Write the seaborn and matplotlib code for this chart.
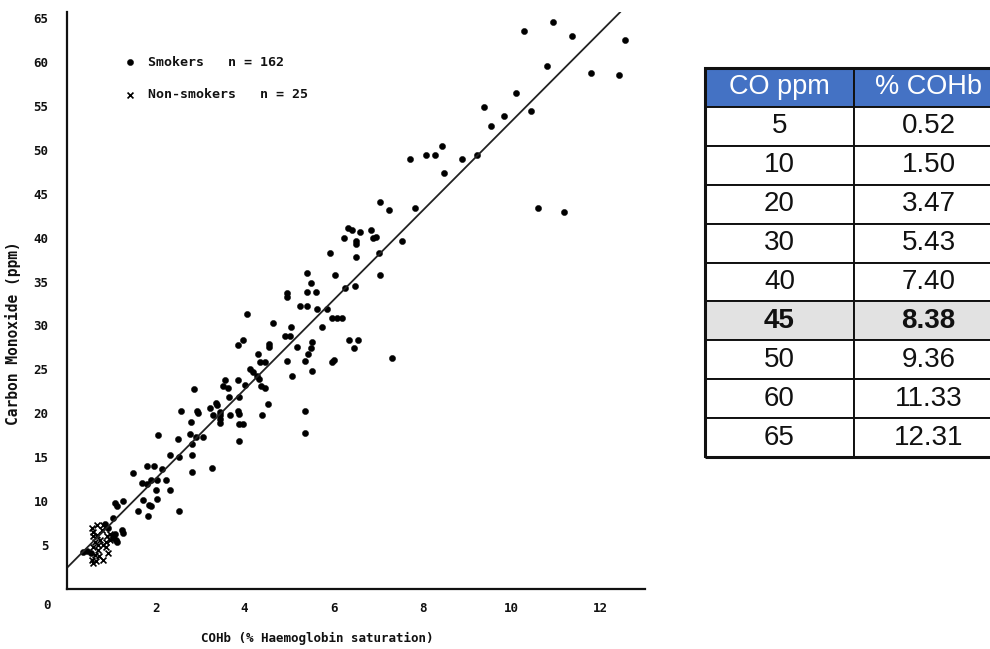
import numpy as np
import pandas as pd
import matplotlib
matplotlib.use("Agg")
import matplotlib.pyplot as plt
import seaborn as sns
from matplotlib.patches import Rectangle

# ---------------- data ----------------
smokers_cohb = [
    10.28, 10.94, 11.35, 12.56, 10.79, 11.79, 12.41, 10.09, 9.38, 9.84, 10.44, 9.53,
    8.44, 8.08, 8.28, 8.88, 9.23, 7.73, 8.48, 10.59, 11.19,
    7.04, 7.25, 7.84, 7.54,
    6.33, 6.42, 6.59, 6.84, 6.24, 6.50, 6.50, 6.89, 6.95, 5.92, 6.50, 7.03, 6.03, 7.04,
    5.40, 5.49, 5.40, 5.60, 4.95, 4.95, 6.26, 6.49, 5.25, 5.40, 5.64, 5.85, 4.05, 5.96,
    6.07, 6.20, 4.65, 5.05, 5.75, 4.91, 5.02, 3.97, 3.86, 4.56, 4.56, 5.17, 5.51, 5.49,
    5.43, 6.35, 6.56, 6.46, 7.31, 6.00, 5.96,
    4.96, 5.36, 5.51, 5.06, 4.31, 4.35, 4.46, 4.12, 4.18, 4.27, 4.33, 4.37, 4.46,
    3.56, 3.86, 3.52, 3.62, 4.01, 2.87, 3.66, 3.88, 3.36, 3.39, 2.93, 2.96, 3.22, 3.45,
    3.45, 3.45, 3.45, 3.30, 3.67, 3.86, 3.88, 4.53, 4.39, 3.88, 3.97, 5.36, 5.36, 3.88,
    2.57, 2.79, 2.06, 2.51, 2.78, 2.91, 3.07, 2.83,
    2.33, 2.53, 2.83, 3.28, 2.83, 1.82, 1.97, 2.14, 1.50, 1.69, 1.80, 1.91, 2.03, 2.23,
    2.01, 2.33, 1.73, 1.86, 1.91, 2.03, 1.60, 1.84, 2.53,
    1.09, 1.13, 1.28, 1.05, 0.87, 0.94, 1.28, 1.24, 1.09, 1.05, 1.13,
    0.36, 0.45, 0.54, 1.05, 1.11,
]
smokers_co = [
    63.5, 64.5, 63.0, 62.5, 59.5, 58.7, 58.5, 56.5, 54.9, 53.9, 54.4, 52.7,
    50.4, 49.4, 49.4, 48.9, 49.4, 48.9, 47.3, 43.4, 42.9,
    44.1, 43.1, 43.4, 39.6,
    41.1, 40.9, 40.6, 40.9, 39.9, 39.6, 39.3, 39.9, 40.1, 38.3, 37.8, 38.2, 35.8, 35.8,
    36.0, 34.8, 33.8, 33.8, 33.7, 33.2, 34.3, 34.5, 32.2, 32.2, 31.9, 31.9, 31.3, 30.8,
    30.8, 30.8, 30.3, 29.8, 29.8, 28.8, 28.8, 28.4, 27.8, 27.9, 27.5, 27.6, 28.1, 27.4,
    26.8, 28.4, 28.4, 27.4, 26.3, 26.1, 25.8,
    26.0, 25.9, 24.8, 24.3, 26.8, 25.8, 25.8, 25.0, 24.75, 24.3, 23.9, 23.1, 22.9,
    23.8, 23.8, 23.1, 22.9, 23.2, 22.8, 21.8, 21.9, 21.2, 20.96, 20.3, 20.0, 20.6, 20.2,
    19.8, 19.4, 18.9, 19.8, 19.8, 20.3, 19.9, 21.1, 19.8, 18.8, 18.8, 20.3, 17.8, 16.8,
    20.3, 19.0, 17.5, 17.05, 17.7, 17.3, 17.3, 16.5,
    15.3, 15.0, 15.3, 13.8, 13.3, 14.0, 14.0, 13.7, 13.25, 12.1, 11.9, 12.4, 12.4, 12.4,
    11.3, 11.3, 10.1, 9.6, 9.4, 10.3, 8.9, 8.35, 8.9,
    9.76, 9.45, 10.06, 8.05, 7.4, 7.0, 6.4, 6.7, 6.3, 5.8, 5.3,
    4.25, 4.3, 4.1, 6.0, 5.6,
]
nonsmokers_cohb = [
    0.57, 0.60, 0.66, 0.81, 0.64, 0.74, 0.71, 0.94, 0.60, 0.83, 0.89, 0.64, 0.75,
    0.89, 0.98, 0.60, 0.69, 0.90, 0.59, 0.79, 0.57, 0.68, 0.83, 0.98, 0.70,
]
nonsmokers_co = [
    3.3, 3.0, 3.2, 3.3, 3.9, 3.8, 4.4, 4.1, 4.8, 5.0, 4.8, 5.4, 5.6,
    5.4, 5.6, 6.0, 6.15, 6.0, 6.5, 6.7, 6.9, 7.3, 7.3, 6.3, 5.0,
]

smokers_label = "Smokers   n = 162"
nonsmokers_label = "Non-smokers   n = 25"

table_header = ["CO ppm", "% COHb"]
table_co_ppm = ["5", "10", "20", "30", "40", "45", "50", "60", "65"]
table_cohb = ["0.52", "1.50", "3.47", "5.43", "7.40", "8.38", "9.36", "11.33", "12.31"]
highlight_value = "45"

x_tick_values = list(range(1, 13))
x_tick_labels = ["", "2", "", "4", "", "6", "", "8", "", "10", "", "12"]
y_tick_values = list(range(5, 70, 5))
x_label = "COHb (% Haemoglobin saturation)"
y_label = "Carbon Monoxide (ppm)"

# ---------------- figure ----------------
sns.set_style("white")
plt.rcParams["font.family"] = ["DejaVu Sans Mono", "DejaVu Sans"]

fig = plt.figure(figsize=(9.9, 6.49), dpi=100)
W, H = 990, 649
x0px, x1px = 66.5, 645
y0px, y1px = 589, 12
ax = fig.add_axes([x0px / W, 1 - y0px / H, (x1px - x0px) / W, (y0px - y1px) / H])

df_s = pd.DataFrame({"cohb": smokers_cohb, "co": smokers_co})
df_n = pd.DataFrame({"cohb": nonsmokers_cohb, "co": nonsmokers_co})

sns.scatterplot(data=df_s, x="cohb", y="co", ax=ax, marker="o", s=20,
                color="black", edgecolor="black", linewidth=0.3, label=smokers_label)
sns.scatterplot(data=df_n, x="cohb", y="co", ax=ax, marker="x", s=18,
                color="black", linewidth=1.2, label=nonsmokers_label)

# regression line implied by the CO ppm / %COHb relation
slope, intercept = np.polyfit(np.array(table_cohb, float), np.array(table_co_ppm, float), 1)
x_line = np.linspace(0, 12.45, 50)
sns.lineplot(x=x_line, y=slope * x_line + intercept, ax=ax, color="#222222",
             linewidth=1.3, legend=False)

ax.set_xlim(0, 13.0)
ax.set_ylim(0, (y0px - y1px) / ((y0px - 18) / 65))
ax.set_xticks(x_tick_values)
ax.set_xticklabels(x_tick_labels)
ax.set_yticks(y_tick_values)
ax.set_yticklabels([str(v) for v in y_tick_values])
for s in ["top", "right"]:
    ax.spines[s].set_visible(False)
for s in ["left", "bottom"]:
    ax.spines[s].set_linewidth(1.6)
    ax.spines[s].set_color("#111111")
ax.tick_params(axis="x", direction="in", length=6, width=1.5, pad=9,
               labelsize=9, colors="#111111")
ax.tick_params(axis="y", direction="in", length=4, width=1.3, pad=13,
               labelsize=9, colors="#111111")
for lab in ax.get_xticklabels() + ax.get_yticklabels():
    lab.set_fontweight("bold")
ax.text(-0.034, -0.028, "0", transform=ax.transAxes, ha="center", va="center",
        fontsize=9, fontweight="bold", color="#111111")

ax.set_xlabel(x_label, fontsize=9, fontweight="bold", color="#111111")
ax.set_ylabel(y_label, fontsize=10.5, fontweight="bold", color="#111111")
ax.xaxis.set_label_coords(0.433, -0.074)
ax.yaxis.set_label_coords(-0.079, 0.444)

leg = ax.legend(loc="upper left", bbox_to_anchor=(0.1003, 0.924), frameon=False,
                borderpad=0, borderaxespad=0, handlelength=0.8, handletextpad=1.0,
                labelspacing=1.45, prop={"family": "DejaVu Sans Mono", "weight": "bold", "size": 9.5})
for t in leg.get_texts():
    t.set_color("#111111")

# ---------------- table ----------------
tx0, tx1 = 705, 1003
ty0, ty1 = 68, 457
ax_t = fig.add_axes([tx0 / W, 1 - ty1 / H, (tx1 - tx0) / W, (ty1 - ty0) / H])
ax_t.axis("off")
cell_text = [[a, b] for a, b in zip(table_co_ppm, table_cohb)]
tbl = ax_t.table(cellText=cell_text, colLabels=table_header, cellLoc="center",
                 bbox=[0, 0, 1, 1])
tbl.auto_set_font_size(False)
hl_row = table_co_ppm.index(highlight_value) + 1
for (r, c), cell in tbl.get_celld().items():
    cell.set_edgecolor("#111111")
    cell.set_linewidth(1.4)
    txt = cell.get_text()
    txt.set_fontfamily(["Liberation Sans", "DejaVu Sans"])
    if r == 0:
        cell.set_facecolor("#4472C4")
        txt.set_color("white")
        txt.set_fontsize(19.5)
    else:
        txt.set_fontsize(20)
        txt.set_color("#111111")
        if r == hl_row:
            cell.set_facecolor("#e2e2e2")
            txt.set_fontweight("bold")
        else:
            cell.set_facecolor("white")
ax_t.add_patch(Rectangle((0, 0), 1, 1, transform=ax_t.transAxes, fill=False,
                         edgecolor="#111111", linewidth=2.2, clip_on=False))

fig.savefig("out.png", dpi=100)
